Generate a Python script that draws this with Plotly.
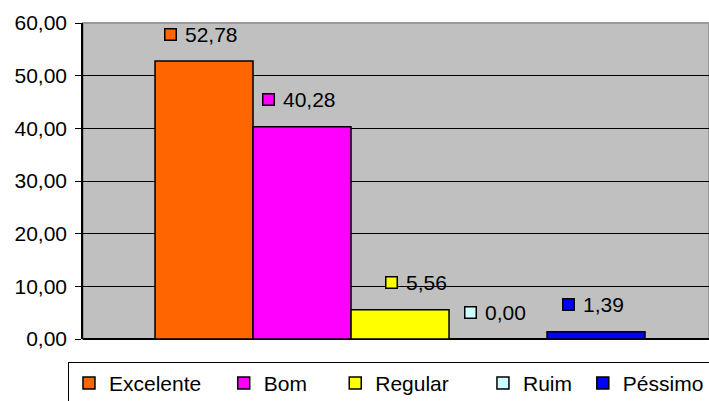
import plotly.graph_objects as go

# ---- data ------------------------------------------------------------
categorias = ["Excelente", "Bom", "Regular", "Ruim", "Péssimo"]
valores = [52.78, 40.28, 5.56, 0.00, 1.39]
cores = ["#FF6600", "#FF00FF", "#FFFF00", "#CCFFFF", "#0000FF"]
y_ticks = [0, 10, 20, 30, 40, 50, 60]

# ajuste fino horizontal dos rótulos (px) e espaçamento da legenda
label_nudge = [-3, -3, 16, -3, -3]
legend_pad = [3, 4, 5, 1, 0]

FONT = "Liberation Sans, Arial, sans-serif"
FS = 21

fig = go.Figure()
for i, (cat, val, cor) in enumerate(zip(categorias, valores, cores)):
    fig.add_trace(go.Bar(
        x=[i], y=[val], name=cat + "\u00a0" * legend_pad[i], width=1,
        marker=dict(color=cor, line=dict(color="black", width=1.5)),
        hoverinfo="skip",
    ))

annotations = []
for i, (val, cor) in enumerate(zip(valores, cores)):
    txt = f"{val:.2f}".replace(".", ",")
    n_dig = sum(ch.isdigit() for ch in txt)
    tw = 11.7 * n_dig + 5.8
    group_w = 13 + 8 + tw
    left = label_nudge[i] - group_w / 2
    # quadradinho da legenda no rótulo
    annotations.append(dict(
        x=i, y=val, xref="x", yref="y", text=" ", showarrow=False,
        width=10, height=10, bgcolor=cor, bordercolor="black",
        borderwidth=1.5, borderpad=0,
        xshift=left + 6.5, yshift=27, xanchor="center", yanchor="middle",
        font=dict(size=6),
    ))
    annotations.append(dict(
        x=i, y=val, xref="x", yref="y", text=txt, showarrow=False,
        xanchor="left", yanchor="middle", xshift=left + 19, yshift=27,
        font=dict(family=FONT, size=FS, color="black"),
    ))

fig.update_layout(
    width=709, height=401,
    margin=dict(l=83, r=0, t=23, b=62, autoexpand=False),
    paper_bgcolor="white",
    plot_bgcolor="#C0C0C0",
    separators=",.",
    barmode="overlay",
    font=dict(family=FONT, size=FS, color="black"),
    annotations=annotations,
    showlegend=True,
    legend=dict(
        orientation="h", x=-0.024, xanchor="left", y=-0.072, yanchor="top",
        bgcolor="white", bordercolor="black", borderwidth=1,
        font=dict(family=FONT, size=FS, color="black"),
        itemclick=False,
    ),
    xaxis=dict(
        range=[-1.235, 5.153], showticklabels=False, showgrid=False,
        zeroline=False, showline=False, ticks="", fixedrange=True,
        automargin=False,
    ),
    yaxis=dict(
        range=[0, 60], tickvals=y_ticks, tickformat=".2f",
        showgrid=True, gridcolor="black", gridwidth=1,
        zeroline=True, zerolinecolor="black", zerolinewidth=1.5,
        showline=True, linecolor="black", linewidth=1.5,
        ticks="outside", ticklen=6, tickcolor="black", tickwidth=1,
        ticklabelstandoff=4, automargin=False,
        tickfont=dict(family=FONT, size=FS, color="black"),
        fixedrange=True,
    ),
    shapes=[dict(
        type="rect", xref="paper", yref="paper", x0=0, x1=1, y0=0, y1=1,
        line=dict(color="#999999", width=2), layer="below",
    )],
)

fig.write_html("out.html", config={"displayModeBar": False},
               post_script="document.body.style.margin='0';")
